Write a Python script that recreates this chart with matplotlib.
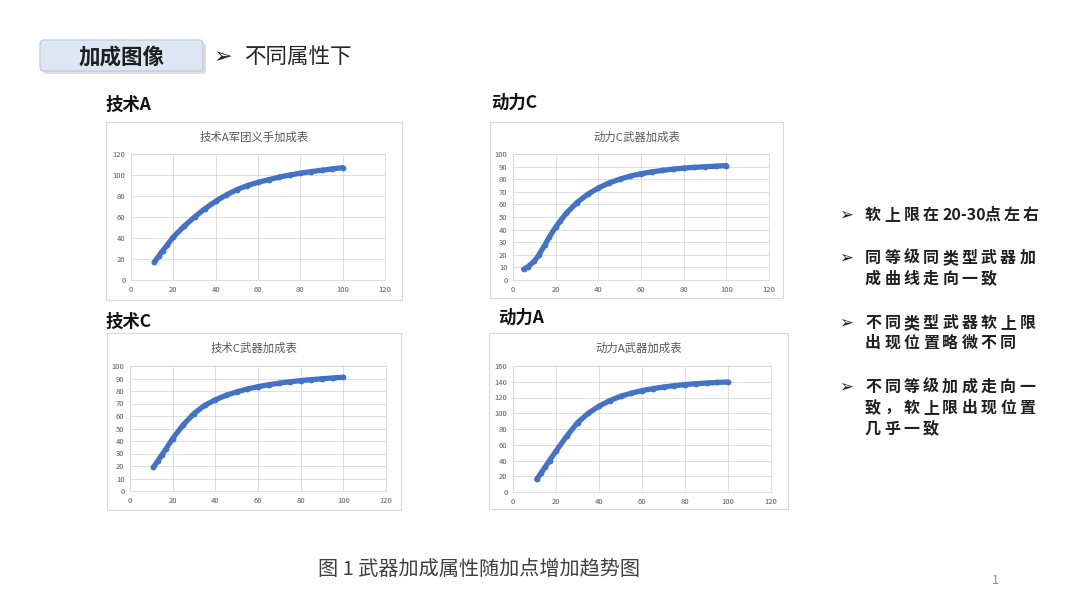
import matplotlib
matplotlib.use('Agg')
import matplotlib.pyplot as plt
from matplotlib.patches import Rectangle, FancyBboxPatch

plt.rcParams['font.family'] = ['Noto Sans CJK SC', 'DejaVu Sans']

# 技术A 军团义手
tech_a_x = [11, 13, 15, 17, 20, 25, 30, 35, 40, 45, 50, 55, 60, 65, 70, 75, 80, 85, 90, 95, 100]
tech_a_y = [17, 22.5, 28, 33, 41, 51, 60, 68, 75, 81, 86, 90, 93, 95.5, 98, 100, 101.7, 103.2, 104.5, 105.8, 107]

# 动力C 武器
power_c_x = [5, 7, 10, 12, 15, 17, 20, 22, 25, 30, 35, 40, 45, 50, 55, 60, 65, 70, 75, 80, 85, 90, 95, 100]
power_c_y = [8.5, 10.5, 15, 19.5, 28, 34, 42, 46.5, 53, 61.5, 68, 73, 77, 80, 82.5, 84.3, 85.8, 87, 88, 88.8, 89.4, 89.9, 90.3, 90.8]

# 技术C 武器
tech_c_x = [11, 13, 15, 17, 20, 25, 30, 35, 40, 45, 50, 55, 60, 65, 70, 75, 80, 85, 90, 95, 100]
tech_c_y = [19, 24, 29, 34, 42, 53, 62, 68.5, 73, 76.5, 79.3, 81.6, 83.5, 85, 86.3, 87.4, 88.3, 89.1, 89.8, 90.4, 91]

# 动力A 武器
power_a_x = [11, 13, 15, 17, 20, 25, 30, 35, 40, 45, 50, 55, 60, 65, 70, 75, 80, 85, 90, 95, 100]
power_a_y = [16, 24, 32, 40, 52, 71, 88, 100, 109, 116, 121.5, 125.5, 128.7, 131.2, 133.3, 135, 136.4, 137.5, 138.4, 139.1, 139.7]

notes = [
    ['软上限在20-30点左右'],
    ['同等级同类型武器加', '成曲线走向一致'],
    ['不同类型武器软上限', '出现位置略微不同'],
    ['不同等级加成走向一', '致，软上限出现位置', '几乎一致'],
]

W, H = 1080, 608
fig = plt.figure(figsize=(W / 100, H / 100), dpi=100)
bg = fig.add_axes([0, 0, 1, 1])
bg.set_xlim(0, W)
bg.set_ylim(H, 0)
bg.axis('off')

# 标题框
bg.add_patch(FancyBboxPatch((43, 43), 163, 31, boxstyle='round,pad=0,rounding_size=4',
                            fc='#c9c9c9', ec='none', alpha=0.6))
bg.add_patch(FancyBboxPatch((40, 40), 163, 31, boxstyle='round,pad=0,rounding_size=4',
                            fc='#dde7f3', ec='#b9c9de', lw=0.8))
bg.text(122, 57, '加成图像', fontsize=15.5, ha='center', va='center', color='#1f1f1f', weight='bold')
bg.text(223, 57, '➢', fontsize=16, ha='center', va='center', color='#1f1f1f', family=['DejaVu Sans'])
bg.text(244, 57, '不同属性下', fontsize=15.5, ha='left', va='center', color='#262626')

charts = [
    # label, label pos, title, frame (x0, y0, x1, y1), plot (x0, y0, x1, y1), x, y, ymax, ystep
    ('技术A', (106, 105), '技术A军团义手加成表', (106, 122, 402, 300), (131, 154, 385, 280), tech_a_x, tech_a_y, 120, 20),
    ('动力C', (491, 103), '动力C武器加成表', (490, 122, 783, 298), (513, 154, 769, 280), power_c_x, power_c_y, 100, 10),
    ('技术C', (106, 322), '技术C武器加成表', (107, 333, 401, 510), (130, 366, 386, 491), tech_c_x, tech_c_y, 100, 10),
    ('动力A', (498, 318), '动力A武器加成表', (489, 333, 788, 509), (513, 366, 771, 492), power_a_x, power_a_y, 160, 20),
]

for label, lpos, title, frame, plot, xs, ys, ymax, ystep in charts:
    bg.text(lpos[0], lpos[1], label, fontsize=12.5, ha='left', va='center', color='#111111', weight='bold')
    fx0, fy0, fx1, fy1 = frame
    bg.add_patch(Rectangle((fx0, fy0), fx1 - fx0, fy1 - fy0, fc='white', ec='#d9d9d9', lw=0.8))
    bg.text((fx0 + fx1) / 2, fy0 + 15, title, fontsize=8.2, ha='center', va='center', color='#595959')

    px0, py0, px1, py1 = plot
    ax = fig.add_axes([px0 / W, 1 - py1 / H, (px1 - px0) / W, (py1 - py0) / H])
    ax.plot(xs, ys, color='#4472C4', lw=3.8, marker='o', ms=4.2, mfc='#4472C4', mec='#4472C4',
            mew=0, solid_capstyle='round', clip_on=False)
    ax.set_xlim(0, 120)
    ax.set_ylim(0, ymax)
    ax.set_xticks(range(0, 121, 20))
    ax.set_yticks(range(0, ymax + 1, ystep))
    ax.grid(True, color='#d9d9d9', lw=0.6)
    ax.set_axisbelow(True)
    for sp in ax.spines.values():
        sp.set_color('#d9d9d9')
        sp.set_linewidth(0.6)
    ax.tick_params(length=0, labelsize=5.5, labelcolor='#595959', pad=4)

# 右侧要点
line_y = [[215], [258, 279], [323, 343], [387, 408, 429]]
step = 19.3
for lines, ys_ in zip(notes, line_y):
    bg.text(846, ys_[0], '➢', fontsize=12, ha='center', va='center', color='#1f1f1f', family=['DejaVu Sans'])
    for s, yy in zip(lines, ys_):
        x = 865
        i = 0
        while i < len(s):
            ch = s[i]
            if ch.isascii():
                j = i
                while j < len(s) and s[j].isascii():
                    j += 1
                chunk = s[i:j]
                bg.text(x, yy, chunk, fontsize=11.5, ha='left', va='center', color='#1f1f1f', weight='bold')
                x += 8 * len(chunk) + 2
                i = j
            else:
                bg.text(x, yy, ch, fontsize=11.5, ha='left', va='center', color='#1f1f1f', weight='bold')
                x += step
                i += 1

bg.text(318, 569, '图 1 武器加成属性随加点增加趋势图', fontsize=14.5, ha='left', va='center', color='#404040')
bg.text(995, 580, '1', fontsize=9, ha='center', va='center', color='#8c8c8c')

fig.savefig('out.png', dpi=100)
